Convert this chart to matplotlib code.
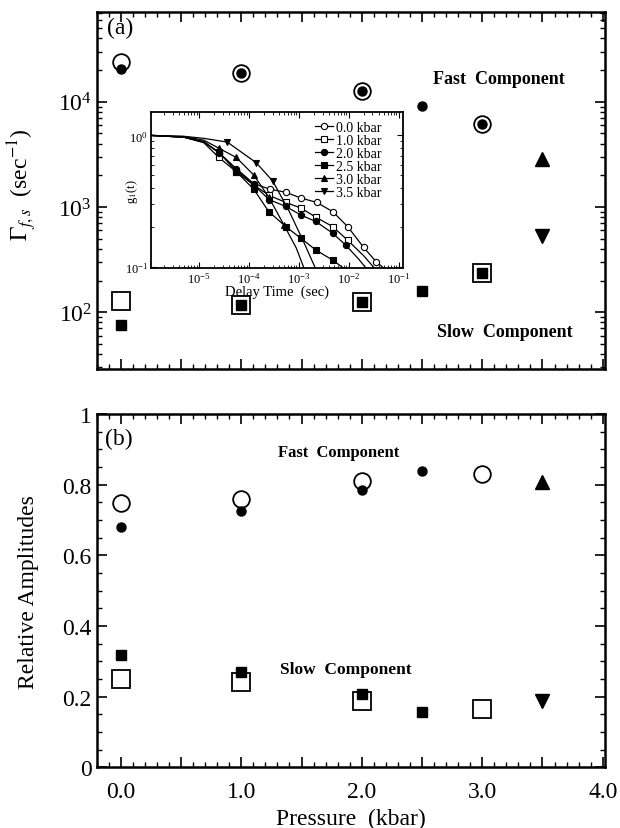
import numpy as np
import matplotlib
matplotlib.use('Agg')
import matplotlib.pyplot as plt
from matplotlib.ticker import MultipleLocator, FuncFormatter, LogLocator, NullFormatter

plt.rcParams['font.family'] = ['Liberation Serif', 'DejaVu Serif']
plt.rcParams['mathtext.fontset'] = 'stix'

# ---- panel (a): decay rates (sec^-1) ----
p_open_c = [0.0, 1.0, 2.0, 3.0]
rate_open_c = [23700, 18700, 12600, 6200]
p_fill_c = [0.0, 1.0, 2.0, 2.5, 3.0]
rate_fill_c = [20500, 18700, 12600, 9200, 6100]
p_open_s = [0.0, 1.0, 2.0, 3.0]
rate_open_s = [127, 117, 124, 236]
p_fill_s = [0.0, 1.0, 2.0, 2.5, 3.0]
rate_fill_s = [75, 116, 124, 160, 236]
p_tri = [3.5]
rate_tri_up = [2850]
rate_tri_dn = [530]

# ---- panel (b): relative amplitudes ----
amp_open_c = [0.748, 0.759, 0.809, 0.830]
p_fill_c2 = [0.0, 1.0, 2.0, 2.5]
amp_fill_c = [0.679, 0.725, 0.785, 0.840]
amp_open_s = [0.250, 0.241, 0.189, 0.165]
amp_fill_s = [0.319, 0.271, 0.207, 0.156]
amp_tri_up = [0.807]
amp_tri_dn = [0.189]

# ---- inset: g1(t), log10 delay time and g1 ----
lt_00 = [-5.95, -5.3, -4.9, -4.6, -4.25, -3.9, -3.57, -3.26, -2.96, -2.64, -2.32, -2.02, -1.7, -1.45, -1.25]
g_00 = [1.0, 0.97, 0.90, 0.74, 0.56, 0.43, 0.39, 0.37, 0.335, 0.31, 0.264, 0.203, 0.141, 0.11, 0.095]
lt_10 = [-5.95, -5.3, -4.9, -4.6, -4.25, -3.9, -3.59, -3.26, -2.96, -2.66, -2.32, -2.02, -1.7, -1.45]
g_10 = [1.0, 0.97, 0.88, 0.68, 0.53, 0.42, 0.35, 0.31, 0.281, 0.24, 0.203, 0.16, 0.122, 0.095]
lt_20 = [-5.95, -5.3, -4.9, -4.6, -4.25, -3.9, -3.59, -3.26, -2.96, -2.66, -2.32, -2.06, -1.8, -1.62]
g_20 = [1.0, 0.97, 0.89, 0.74, 0.55, 0.42, 0.325, 0.289, 0.249, 0.222, 0.181, 0.147, 0.115, 0.095]
lt_25 = [-5.95, -5.3, -4.9, -4.6, -4.25, -3.9, -3.6, -3.26, -2.96, -2.66, -2.32, -2.05]
g_25 = [1.0, 0.97, 0.89, 0.75, 0.53, 0.39, 0.264, 0.203, 0.166, 0.135, 0.113, 0.095]
lt_30 = [-5.95, -5.3, -4.9, -4.6, -4.25, -3.9, -3.6, -3.3, -3.05, -2.88]
g_30 = [1.0, 0.98, 0.92, 0.80, 0.68, 0.50, 0.34, 0.21, 0.14, 0.095]
lt_35 = [-5.95, -5.3, -4.9, -4.43, -3.85, -3.52, -3.2, -2.9, -2.65]
g_35 = [1.0, 0.985, 0.95, 0.89, 0.62, 0.45, 0.27, 0.155, 0.095]

fig = plt.figure(figsize=(6.2, 8.29), dpi=100)
ax1 = fig.add_axes([0.156, 0.554, 0.820, 0.430])
ax2 = fig.add_axes([0.156, 0.0732, 0.820, 0.4262])

open_kw = dict(linestyle='none', mfc='none', mec='black', mew=1.3)
fill_kw = dict(linestyle='none', color='black')

ax1.plot(p_open_c, rate_open_c, marker='o', ms=12, **open_kw)
ax1.plot(p_open_s, rate_open_s, marker='s', ms=13, **open_kw)
ax1.plot(p_fill_c, rate_fill_c, marker='o', ms=6.5, **fill_kw)
ax1.plot(p_fill_s, rate_fill_s, marker='s', ms=7, **fill_kw)
ax1.plot(p_tri, rate_tri_up, marker='^', ms=10, **fill_kw)
ax1.plot(p_tri, rate_tri_dn, marker='v', ms=10, **fill_kw)
ax1.set_yscale('log')
ax1.set_ylim(29, 71000)
ax1.set_ylabel(r'$\Gamma_{f,s}$  (sec$^{-1}$)', fontsize=17)
ax1.yaxis.set_label_coords(-0.113, 0.52)
ax1.text(0.02, 0.958, '(a)', transform=ax1.transAxes, fontsize=17, va='center')
ax1.text(0.661, 0.813, 'Fast  Component', transform=ax1.transAxes, fontsize=13,
         fontweight='bold', va='center')
ax1.text(0.669, 0.104, 'Slow  Component', transform=ax1.transAxes, fontsize=13,
         fontweight='bold', va='center')

ax2.plot(p_open_c, amp_open_c, marker='o', ms=12, **open_kw)
ax2.plot(p_open_s, amp_open_s, marker='s', ms=13, **open_kw)
ax2.plot(p_fill_c2, amp_fill_c, marker='o', ms=6.5, **fill_kw)
ax2.plot(p_fill_c2, amp_fill_s, marker='s', ms=7, **fill_kw)
ax2.plot(p_tri, amp_tri_up, marker='^', ms=10, **fill_kw)
ax2.plot(p_tri, amp_tri_dn, marker='v', ms=10, **fill_kw)
ax2.set_ylim(0, 1)
ax2.yaxis.set_major_locator(MultipleLocator(0.2))
ax2.yaxis.set_minor_locator(MultipleLocator(0.05))
ax2.yaxis.set_major_formatter(FuncFormatter(lambda v, p: '%g' % round(v, 1)))
ax2.set_ylabel('Relative Amplitudes', fontsize=17)
ax2.yaxis.set_label_coords(-0.113, 0.5)
ax2.set_xlabel('Pressure  (kbar)', fontsize=17, labelpad=4)
ax2.text(0.0165, 0.93, '(b)', transform=ax2.transAxes, fontsize=17, va='center')
ax2.text(0.357, 0.892, 'Fast  Component', transform=ax2.transAxes, fontsize=12,
         fontweight='bold', va='center')
ax2.text(0.361, 0.278, 'Slow  Component', transform=ax2.transAxes, fontsize=12.5,
         fontweight='bold', va='center')

for ax in (ax1, ax2):
    ax.set_xlim(-0.2, 4.02)
    ax.xaxis.set_major_locator(MultipleLocator(0.5))
    ax.xaxis.set_minor_locator(MultipleLocator(0.1))
    ax.tick_params(which='both', direction='in', top=True, right=True, labelsize=17)
    ax.tick_params(which='major', length=7, width=1.2)
    ax.tick_params(which='minor', length=3.5, width=1)
    for s in ax.spines.values():
        s.set_linewidth(1.8)
ax2.tick_params(axis='x', which='major', pad=10)
ax1.xaxis.set_major_formatter(NullFormatter())
ax2.xaxis.set_major_formatter(FuncFormatter(lambda v, p: '%.1f' % v if abs(v - round(v)) < 1e-6 else ''))

# ---- inset ----
axi = fig.add_axes([0.2435, 0.6752, 0.4058, 0.1882])
series = [
    (lt_00, g_00, 'o', 'white', '0.0 kbar', slice(3, 14)),
    (lt_10, g_10, 's', 'white', '1.0 kbar', slice(3, 12)),
    (lt_20, g_20, 'o', 'black', '2.0 kbar', slice(3, 12)),
    (lt_25, g_25, 's', 'black', '2.5 kbar', slice(3, 11)),
    (lt_30, g_30, '^', 'black', '3.0 kbar', slice(3, 8)),
    (lt_35, g_35, 'v', 'black', '3.5 kbar', slice(3, 6)),
]
for lt, g, mk, fc, lab, sl in series:
    t = 10.0 ** np.array(lt)
    axi.plot(t, g, color='black', lw=0.9, marker=mk, ms=4.5, mfc=fc, mec='black',
             mew=0.8, markevery=sl, label=lab)
axi.set_xscale('log')
axi.set_yscale('log')
axi.set_xlim(1.1e-6, 0.12)
axi.set_ylim(0.098, 1.5)
axi.xaxis.set_major_locator(LogLocator(base=10, numticks=10))
axi.yaxis.set_minor_formatter(NullFormatter())
axi.xaxis.set_minor_formatter(NullFormatter())
axi.tick_params(which='both', direction='in', top=True, right=True, labelsize=9, pad=2)
axi.tick_params(which='major', length=4)
axi.tick_params(which='minor', length=2)
for s in axi.spines.values():
    s.set_linewidth(1.3)
axi.set_xlabel('Delay Time  (sec)', fontsize=10.5, labelpad=-1)
axi.set_ylabel(r'g$_1$(t)', fontsize=9)
axi.yaxis.set_label_coords(-0.045, 0.5)
axi.legend(loc='upper right', fontsize=10, frameon=False, handlelength=1.3,
           handletextpad=0.2, labelspacing=0.0, borderaxespad=0.2,
           bbox_to_anchor=(0.95, 1.0))

fig.savefig('out.png', dpi=100)
